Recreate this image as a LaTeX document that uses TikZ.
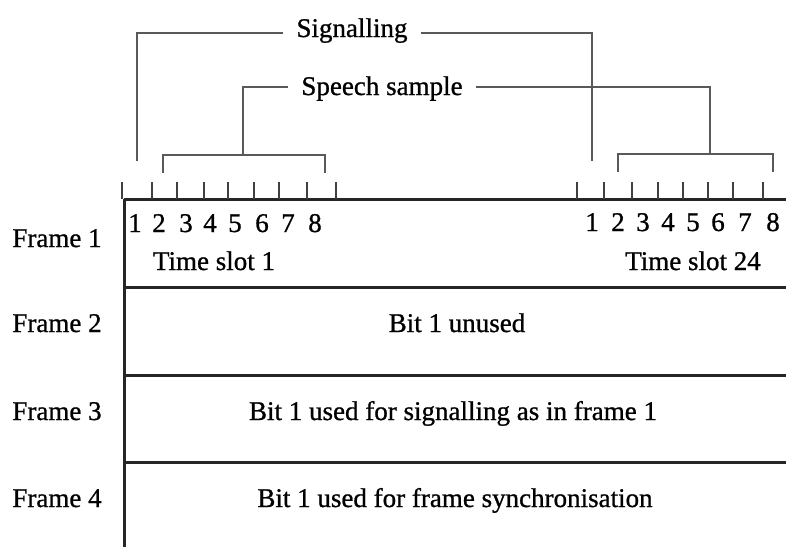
\documentclass[tikz,border=0pt]{standalone}
\usepackage{fontspec}
\setmainfont{Liberation Serif}[FakeBold=0.9]
\usetikzlibrary{positioning}

\begin{document}
\begin{tikzpicture}[
    x=1pt, y=-1pt,
    txt/.style={font=\fontsize{27}{32}\selectfont, inner sep=0pt},
    lbl/.style={txt, inner sep=13pt},
    rule/.style={line width=3pt, black!85},
    tick/.style={line width=1.5pt, black!75},
    brk/.style={line width=1.5pt, black!65}
]
    \useasboundingbox (0,0) rectangle (786,547);

    % frame rows
    \coordinate (top) at (124,199);
    \coordinate (bot) at (124,547);
    \draw[rule] (top) -- (bot);
    \foreach \y in {199,287,375,462}
        \draw[rule] (124,\y) -- (786,\y);

    % bit ticks above frame 1
    \foreach \x in {122,152,177,204,228,254,279,307,336}
        \draw[tick] (\x,182) -- (\x,199);
    \foreach \x in {577,604,632,658,683,708,733,763}
        \draw[tick] (\x,182) -- (\x,199);

    % bit numbers
    \foreach \d/\x in {1/135,2/159,3/186,4/210,5/235,6/262,7/288,8/315}
        \node[txt, anchor=base] (a\d) at (\x,232) {\d};
    \foreach \d/\x in {1/592,2/618,3/643,4/668,5/693,6/718,7/745,8/773}
        \node[txt, anchor=base] (z\d) at (\x,231) {\d};
    \node[txt, anchor=base] (ts1) at (214,270) {Time slot 1};
    \node[txt, anchor=base] (ts24) at (693,270) {Time slot 24};

    % frame labels and contents
    \foreach \i/\y in {1/247,2/332,3/420,4/507}
        \node[txt, anchor=base] (frame\i) at (57,\y) {Frame \i};
    \node[txt, anchor=base] (unused) at (457,332) {Bit 1 unused};
    \node[txt, anchor=base] (sigbit) at (453,420) {Bit 1 used for signalling as in frame 1};
    \node[txt, anchor=base] (syncbit) at (455,507) {Bit 1 used for frame synchronisation};

    % signalling bracket
    \node[lbl, anchor=base] (sig) at (352,37) {Signalling};
    \coordinate (sigL) at (137,161);
    \coordinate (sigR) at (592,161);
    \draw[brk] (sig.west |- 0,33) -| (sigL);
    \draw[brk] (sig.east |- 0,33) -| (sigR);

    % speech sample brackets
    \node[lbl, anchor=base] (speech) at (382,95) {Speech sample};
    \coordinate (spL) at (243,155);
    \coordinate (spR) at (710,154);
    \draw[brk] (speech.west |- 0,87) -| (spL);
    \draw[brk] (speech.east |- 0,87) -| (spR);
    \coordinate (s1a) at (163,173);
    \coordinate (s1b) at (325,173);
    \coordinate (s24a) at (618,172);
    \coordinate (s24b) at (773,172);
    \draw[brk] (s1a) -- ++(0,-18) -| (s1b);
    \draw[brk] (s24a) -- ++(0,-18) -| (s24b);
\end{tikzpicture}
\end{document}
